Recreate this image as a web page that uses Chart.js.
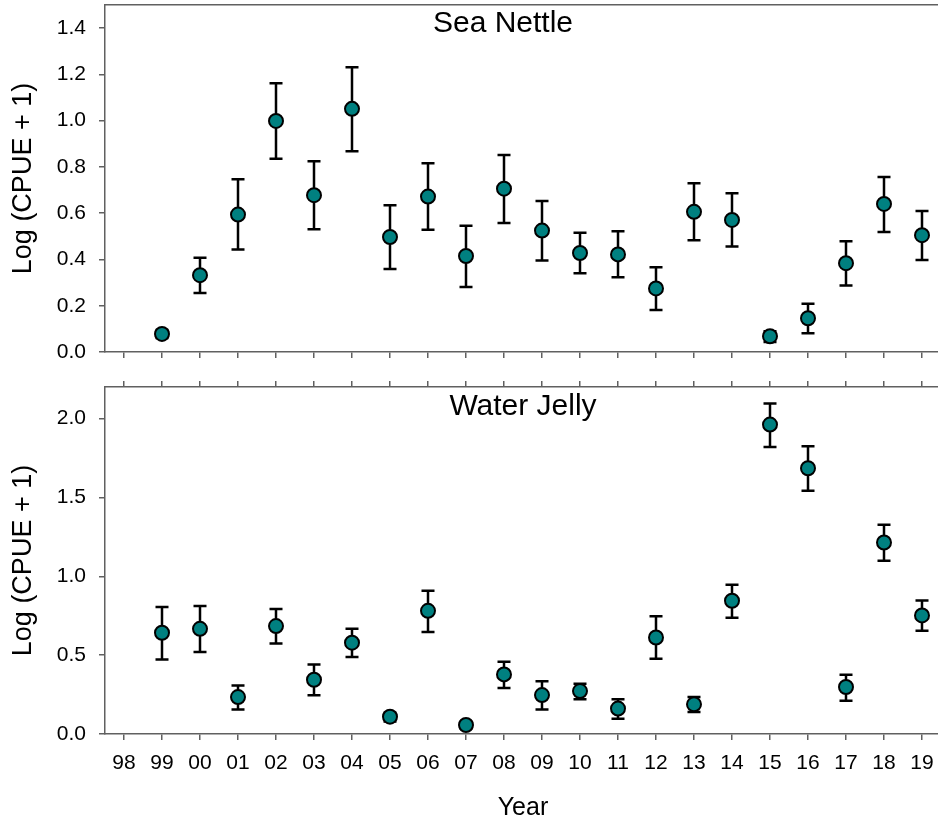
<!DOCTYPE html>
<html>
<head>
<meta charset="utf-8">
<script src="https://cdn.jsdelivr.net/npm/chart.js@4.4.1/dist/chart.umd.min.js"></script>
<style>
  html, body { margin: 0; padding: 0; background: #fff; overflow: hidden; }
  #wrap { position: relative; width: 938px; height: 824px; overflow: hidden; }
  .panel { position: absolute; left: 0; }
</style>
</head>
<body>
<div id="wrap">
  <canvas id="nettle" class="panel" width="943" height="372" style="top:0"></canvas>
  <canvas id="jelly" class="panel" width="943" height="454" style="top:370px"></canvas>
</div>
<script>
// categories
const years = ['98', '99', '00', '01', '02', '03', '04', '05', '06', '07', '08',
               '09', '10', '11', '12', '13', '14', '15', '16', '17', '18', '19'];

// Sea Nettle: mean and error bar ends
const nettleMean = [null, 0.078, 0.332, 0.594, 0.999, 0.678, 1.051, 0.497, 0.672, 0.415, 0.706,
                    0.525, 0.428, 0.422, 0.275, 0.606, 0.571, 0.068, 0.146, 0.384, 0.640, 0.505];
const nettleLow  = [null, 0.060, 0.255, 0.443, 0.835, 0.531, 0.868, 0.359, 0.528, 0.281, 0.558,
                    0.395, 0.340, 0.323, 0.182, 0.483, 0.456, 0.043, 0.081, 0.287, 0.519, 0.398];
const nettleHigh = [null, 0.095, 0.407, 0.747, 1.162, 0.825, 1.231, 0.634, 0.816, 0.546, 0.852,
                    0.653, 0.515, 0.522, 0.366, 0.730, 0.686, 0.090, 0.209, 0.479, 0.757, 0.610];

// Water Jelly: mean and error bar ends
const jellyMean = [null, 0.642, 0.667, 0.234, 0.684, 0.344, 0.579, 0.110, 0.781, 0.057, 0.378,
                   0.247, 0.272, 0.161, 0.612, 0.188, 0.845, 1.962, 1.685, 0.298, 1.214, 0.752];
const jellyLow  = [null, 0.473, 0.520, 0.156, 0.574, 0.245, 0.488, 0.080, 0.646, 0.035, 0.291,
                   0.156, 0.220, 0.097, 0.477, 0.139, 0.737, 1.820, 1.542, 0.211, 1.098, 0.655];
const jellyHigh = [null, 0.805, 0.811, 0.308, 0.792, 0.441, 0.667, 0.135, 0.908, 0.078, 0.458,
                   0.334, 0.319, 0.220, 0.746, 0.234, 0.946, 2.095, 1.825, 0.376, 1.326, 0.847];

// tick labels
const nettleTicks = [0, 0.2, 0.4, 0.6, 0.8, 1.0, 1.2, 1.4];
const jellyTicks = [0, 0.5, 1.0, 1.5, 2.0];

const teal = '#008080';
const axisGray = '#606060';
Chart.defaults.font.family = '"Liberation Sans", Arial, sans-serif';
Chart.defaults.color = '#000';

// vertical error bars with caps, drawn under the markers
const errorBars = {
  id: 'errorBars',
  beforeDatasetsDraw(chart, args, opts) {
    const { ctx } = chart;
    const x = chart.scales.x, y = chart.scales.y;
    ctx.save();
    ctx.strokeStyle = '#000';
    ctx.lineWidth = 2.5;
    opts.low.forEach((lo, i) => {
      if (lo == null) return;
      const px = x.getPixelForValue(i);
      const yl = y.getPixelForValue(lo);
      const yh = y.getPixelForValue(opts.high[i]);
      ctx.beginPath();
      ctx.moveTo(px, yl); ctx.lineTo(px, yh);
      ctx.moveTo(px - 6.5, yl); ctx.lineTo(px + 6.5, yl);
      ctx.moveTo(px - 6.5, yh); ctx.lineTo(px + 6.5, yh);
      ctx.stroke();
    });
    ctx.restore();
  }
};

// panel name written inside the plot
const panelTitle = {
  id: 'panelTitle',
  afterDraw(chart, args, opts) {
    const { ctx } = chart;
    ctx.save();
    ctx.font = '30px "Liberation Sans", Arial, sans-serif';
    ctx.fillStyle = '#000';
    ctx.textAlign = 'center';
    ctx.textBaseline = 'alphabetic';
    ctx.fillText(opts.text, opts.x, opts.y);
    ctx.restore();
  }
};

// no extra room for half tick labels at the ends
function noPad(s) {
  s.paddingTop = 0; s.paddingBottom = 0; s.paddingLeft = 0; s.paddingRight = 0;
}

function makePanel(id, mean, low, high, yTicks, yMax, title, isBottom) {
  return new Chart(document.getElementById(id), {
    type: 'line',
    data: {
      labels: years,
      datasets: [{
        data: mean,
        showLine: false,
        pointRadius: 7,
        pointHoverRadius: 7,
        pointBackgroundColor: teal,
        pointBorderColor: '#000',
        pointBorderWidth: 2
      }]
    },
    options: {
      responsive: false,
      animation: false,
      events: [],
      layout: { autoPadding: false, padding: { top: isBottom ? 0 : 5, left: 0, right: 2, bottom: 0 } },
      plugins: {
        legend: { display: false },
        tooltip: { enabled: false },
        errorBars: { low: low, high: high },
        panelTitle: title
      },
      scales: {
        x: {
          type: 'category',
          position: 'bottom',
          offset: true,
          grid: { drawOnChartArea: false, drawTicks: true, tickLength: 6, color: axisGray, lineWidth: 1.5, offset: false },
          border: { display: true, color: axisGray, width: 1.5 },
          ticks: { display: isBottom, autoSkip: false, maxRotation: 0, padding: 11, font: { size: 21 } },
          title: { display: isBottom, text: 'Year', font: { size: 25 }, padding: { top: 0, bottom: 1 } },
          afterFit(s) { s.height = isBottom ? 90 : 20; noPad(s); }
        },
        xTop: {
          type: 'category',
          position: 'top',
          offset: true,
          grid: { drawOnChartArea: false, drawTicks: isBottom, tickLength: 6, color: axisGray, lineWidth: 1.5, offset: false },
          border: { display: true, color: axisGray, width: 1.5 },
          ticks: { display: false, autoSkip: false },
          afterFit(s) { s.height = isBottom ? 17 : 0; noPad(s); }
        },
        y: {
          min: 0,
          max: yMax,
          grid: { drawOnChartArea: false, drawTicks: true, tickLength: 6, color: axisGray, lineWidth: 1.5 },
          border: { display: true, color: axisGray, width: 1.5 },
          ticks: { padding: 13, font: { size: 21 }, callback: v => Number(v).toFixed(1) },
          afterBuildTicks(s) { s.ticks = yTicks.map(v => ({ value: v })); },
          title: { display: true, text: 'Log (CPUE + 1)', font: { size: 27 }, padding: { top: 7, bottom: 0 } },
          afterFit(s) { s.width = 105; noPad(s); }
        }
      }
    },
    plugins: [errorBars, panelTitle]
  });
}

makePanel('nettle', nettleMean, nettleLow, nettleHigh, nettleTicks, 1.5,
          { text: 'Sea Nettle', x: 503, y: 32 }, false);
makePanel('jelly', jellyMean, jellyLow, jellyHigh, jellyTicks, 2.2,
          { text: 'Water Jelly', x: 523, y: 45 }, true);
</script>
</body>
</html>
